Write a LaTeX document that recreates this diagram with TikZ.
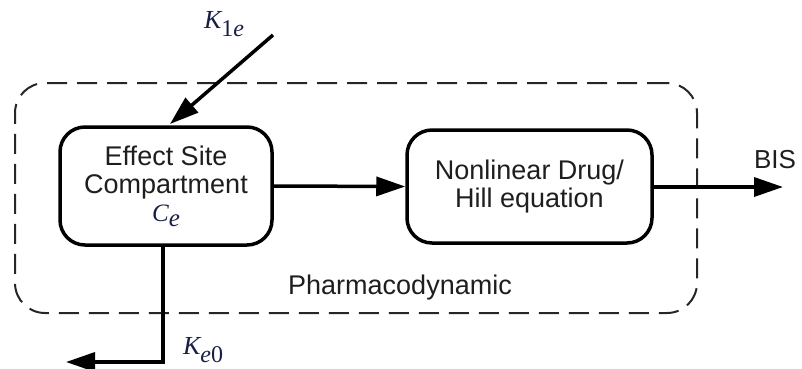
\documentclass[tikz,border=0pt]{standalone}
\usepackage{fontspec}
\setmainfont{Liberation Serif}
\setsansfont{Liberation Sans}
\usetikzlibrary{arrows.meta}
\definecolor{labelink}{RGB}{25,30,70}
\definecolor{textink}{RGB}{30,30,30}
\newcommand{\blocktext}{\sffamily\fontsize{27}{28}\selectfont\color{textink}}
\newcommand{\symK}[1]{{\fontsize{26}{28}\selectfont\itshape K}\raisebox{-8pt}{\fontsize{24}{26}\selectfont #1}}
\begin{document}
\begin{tikzpicture}[x=1pt,y=-1pt,
  block/.style={draw, line width=3.5pt, rounded corners=25pt, inner sep=0pt, align=center, font=\blocktext},
  flow/.style={line width=3.5pt, -{Triangle[length=29pt,width=19pt]}},
  group/.style={draw=black!85, line width=2pt, dash pattern=on 20pt off 10pt, rounded corners=30pt},
  sym/.style={text=labelink, inner sep=0pt}]
\useasboundingbox (0,0) rectangle (802,368);

% pharmacodynamic boundary
\node[group, minimum width=682pt, minimum height=230pt] (pd) at (356,198) {};
\node[font=\blocktext] (pdlabel) at (400,288) {Pharmacodynamic};

% blocks
\node[block, minimum width=212pt, minimum height=118pt] (eff) at (166,186)
  {Effect Site\\Compartment\\{\rmfamily\color{labelink}\fontsize{25}{28}\selectfont\itshape C\raisebox{-5pt}{e}}};
\node[block, minimum width=245pt, minimum height=113pt] (hill) at (529.5,186.5)
  {Nonlinear Drug/\\Hill equation};

% input rate constant
\coordinate (k1s) at (273,35);
\coordinate (k1t) at (170,124);
\draw[flow] (k1s) -- (k1t);
\node[sym] (k1) at (224,24) {\symK{1\textit{e}}};

% elimination
\coordinate (ke0end) at (66,362);
\draw[flow] (eff.south -| 163,0) |- (ke0end);
\node[sym] (ke0) at (203,350) {\symK{\textit{e}0}};

% signal path
\draw[flow] (eff.east) -- (hill.west);
\coordinate (bisend) at (783,187);
\draw[flow] (hill.east |- bisend) -- (bisend);
\node[font=\sffamily\fontsize{26}{28}\selectfont\color{textink}] (bis) at (775,160) {BIS};
\end{tikzpicture}
\end{document}
